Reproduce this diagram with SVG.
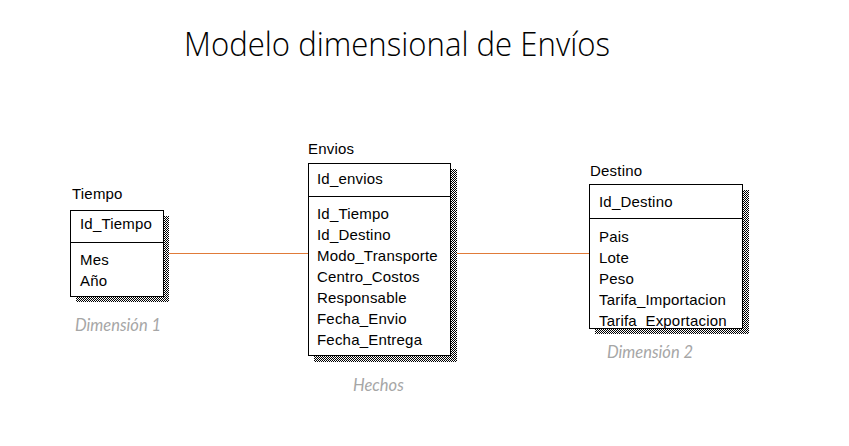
<svg xmlns="http://www.w3.org/2000/svg" width="849" height="446" viewBox="0 0 849 446">
<style>
.title{font-family:"Open Sans","Noto Sans",sans-serif;font-size:33px;font-weight:300;fill:#000}
.ename{font-family:"Liberation Sans",Arial,sans-serif;font-size:15px;letter-spacing:0.2px;fill:#000}
.attr{font-family:"Liberation Sans",Arial,sans-serif;font-size:15px;letter-spacing:0.2px;fill:#000}
.box{fill:#fff;stroke:#000;stroke-width:1}
.div{stroke:#000;stroke-width:1}
.shadow{fill:url(#checker)}
.note{font-family:Lato,"Open Sans",sans-serif;font-size:16.5px;font-style:italic;fill:#a6a6a6}
.conn{stroke:#e07b39;stroke-width:1;fill:none}
</style>
<defs>
<pattern id="checker" patternUnits="userSpaceOnUse" width="2" height="2">
<rect width="2" height="2" fill="#fff"/>
<rect width="1" height="1" fill="#000"/>
<rect x="1" y="1" width="1" height="1" fill="#000"/>
</pattern>
<clipPath id="clipDestino"><rect x="589" y="184" width="153" height="144"/></clipPath>
</defs>
<rect width="849" height="446" fill="#fff"/>
<text class="title" x="184" y="56" textLength="426" lengthAdjust="spacingAndGlyphs">Modelo dimensional de Envíos</text>

<g id="connectors">
<line class="conn" x1="169" y1="253.5" x2="308" y2="253.5"/>
<line class="conn" x1="456" y1="253.5" x2="589" y2="253.5"/>
</g>

<g id="tiempo">
<text class="ename" x="72" y="199">Tiempo</text>
<rect class="shadow" x="164" y="216" width="5" height="86"/>
<rect class="shadow" x="76" y="296" width="93" height="6"/>
<rect class="box" x="70.5" y="210.5" width="93" height="86"/>
<line class="div" x1="70.5" y1="242.5" x2="163.5" y2="242.5"/>
<text class="attr" x="80" y="229">Id_Tiempo</text>
<text class="attr" x="80" y="265">Mes</text>
<text class="attr" x="80" y="286">Año</text>
</g>

<g id="envios">
<text class="ename" x="308" y="154">Envios</text>
<rect class="shadow" x="451" y="169" width="6" height="193"/>
<rect class="shadow" x="314" y="356" width="143" height="6"/>
<rect class="box" x="308.5" y="163.5" width="142" height="192"/>
<line class="div" x1="308.5" y1="196.5" x2="450.5" y2="196.5"/>
<text class="attr" x="317" y="184">Id_envios</text>
<text class="attr" x="317" y="219">Id_Tiempo</text>
<text class="attr" x="317" y="240">Id_Destino</text>
<text class="attr" x="317" y="261">Modo_Transporte</text>
<text class="attr" x="317" y="282">Centro_Costos</text>
<text class="attr" x="317" y="303">Responsable</text>
<text class="attr" x="317" y="324">Fecha_Envio</text>
<text class="attr" x="317" y="345">Fecha_Entrega</text>
</g>

<g id="destino">
<text class="ename" x="590" y="176">Destino</text>
<rect class="shadow" x="743" y="190" width="6" height="144"/>
<rect class="shadow" x="595" y="329" width="154" height="5"/>
<rect class="box" x="589.5" y="184.5" width="153" height="144"/>
<line class="div" x1="589.5" y1="218.5" x2="742.5" y2="218.5"/>
<g clip-path="url(#clipDestino)">
<text class="attr" x="599" y="207">Id_Destino</text>
<text class="attr" x="599" y="242">Pais</text>
<text class="attr" x="599" y="263">Lote</text>
<text class="attr" x="599" y="284">Peso</text>
<text class="attr" x="599" y="305">Tarifa_Importacion</text>
<text class="attr" x="599" y="326">Tarifa_Exportacion</text>
</g>
<line class="div" x1="589.5" y1="328.5" x2="742.5" y2="328.5"/>
</g>

<text class="note" x="75" y="331">Dimensión 1</text>
<text class="note" x="353" y="391">Hechos</text>
<text class="note" x="607" y="358">Dimensión 2</text>
</svg>
